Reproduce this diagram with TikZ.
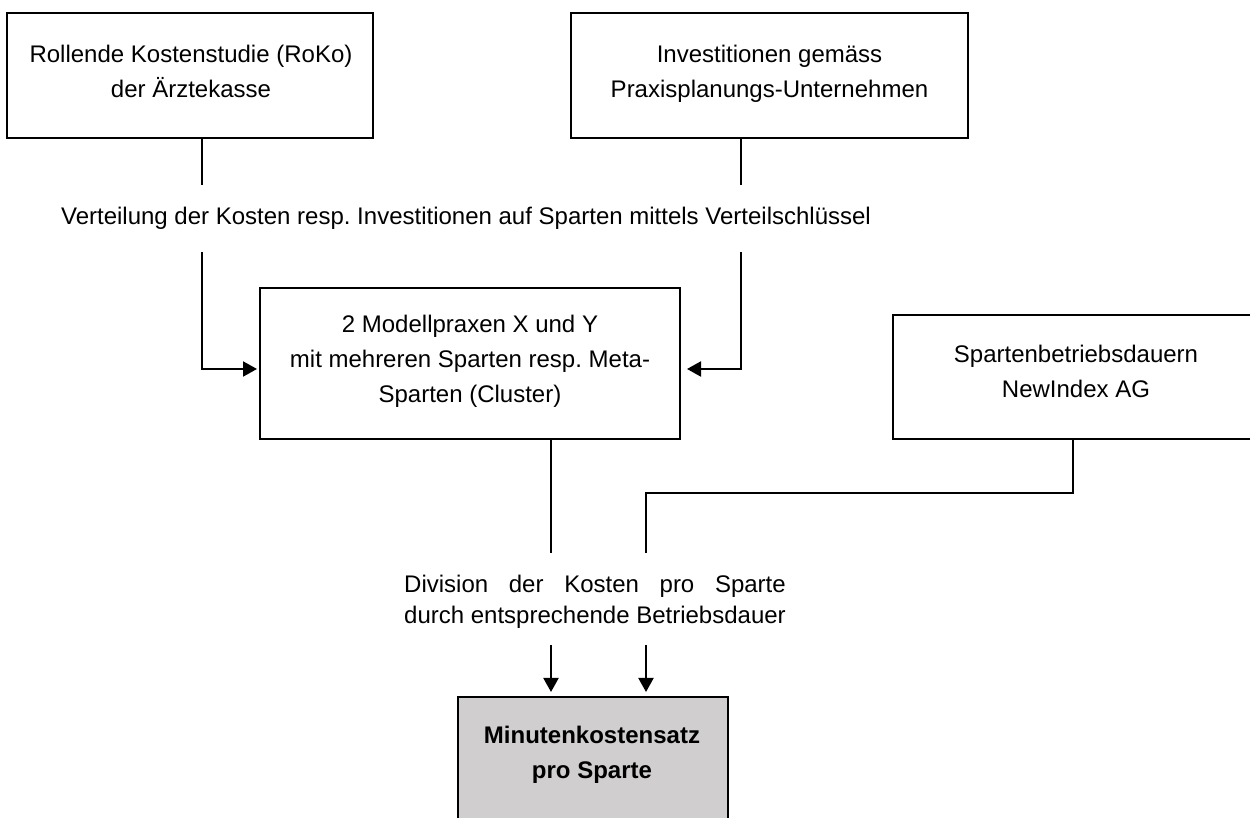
\documentclass[tikz,border=0pt]{standalone}
\usepackage{fontspec}
\setmainfont{Liberation Sans}
\frenchspacing
\usetikzlibrary{arrows.meta}
\definecolor{resultgray}{RGB}{208,206,206}
\newlength\divwidth
\tikzset{
  frame/.style={draw=black, line width=1pt, inner sep=0pt},
  lbl/.style={font=\fontsize{12pt}{17.5pt}\selectfont, align=center, inner sep=0pt},
  link/.style={line width=1pt},
  feed/.style={link, -{Triangle[length=7pt,width=7.5pt]}},
}
\begin{document}
\begin{tikzpicture}[x=0.5pt,y=-0.5pt]
\useasboundingbox (0,0) rectangle (1250,818);

% boxes
\node[frame, minimum width=183pt, minimum height=62.5pt] (roko) at (190,75.5) {};
\node[frame, minimum width=198.5pt, minimum height=62.5pt] (invest) at (769.5,75.5) {};
\node[frame, minimum width=210pt, minimum height=75.5pt] (modell) at (470,363.5) {};
\node[frame, minimum width=183.5pt, minimum height=62pt] (dauer) at (1076.5,377) {};
\node[frame, fill=resultgray, minimum width=135pt, minimum height=81.5pt] (result) at (593,778.5) {};

% box texts
\node[lbl] (rokotext) at (191,71.75) {Rollende Kostenstudie (RoKo)\\der Ärztekasse};
\node[lbl] (investtext) at (769.5,74) {Investitionen gemäss\\Praxisplanungs-Unternehmen};
\node[lbl] (modelltext) at (470,360.9) {2 Modellpraxen X und Y\\mit mehreren Sparten resp. Meta-\\Sparten (Cluster)};
\node[lbl] (dauertext) at (1076,371.9) {Spartenbetriebsdauern\\NewIndex AG};
\node[lbl, font=\fontsize{12pt}{17.5pt}\selectfont\bfseries] (resulttext) at (592,754.4) {Minutenkostensatz\\pro Sparte};

% free-standing step texts
\node[lbl, anchor=base] (verteil) at (466,225) {Verteilung der Kosten resp. Investitionen auf Sparten mittels Verteilschlüssel};
\node[lbl, align=left, font=\fontsize{12pt}{15.5pt}\selectfont] (division) at (595,601.4)
  {{\settowidth\divwidth{durch entsprechende Betriebsdauer}%
    \makebox[\divwidth][s]{Division der Kosten pro Sparte}}\\durch entsprechende Betriebsdauer};

% connector points
\coordinate (rokoend) at (202,185);
\coordinate (investend) at (741,185);
\coordinate (leftresume) at (202,252);
\coordinate (leftbend) at (202,369);
\coordinate (rightresume) at (741,252);
\coordinate (rightbend) at (741,369);
\coordinate (modellend) at (551,553);
\coordinate (dauerjoin) at (1073,493);
\coordinate (dauerend) at (646,553);
\coordinate (lefttail) at (551,645);
\coordinate (righttail) at (646,645);

% upper connectors
\draw[link] (roko.south -| rokoend) -- (rokoend);
\draw[link] (invest.south -| investend) -- (investend);
\draw[feed, shorten >=1pt] (leftresume) -- (leftbend) -- (modell.west |- leftbend);
\draw[feed, shorten >=3pt] (rightresume) -- (rightbend) -- (modell.east |- rightbend);

% lower connectors
\draw[link] (modell.south -| modellend) -- (modellend);
\draw[link] (dauer.south -| dauerjoin) -- (dauerjoin) -| (dauerend);
\draw[feed, shorten >=2pt] (lefttail) -- (result.north -| lefttail);
\draw[feed, shorten >=2pt] (righttail) -- (result.north -| righttail);
\end{tikzpicture}
\end{document}
